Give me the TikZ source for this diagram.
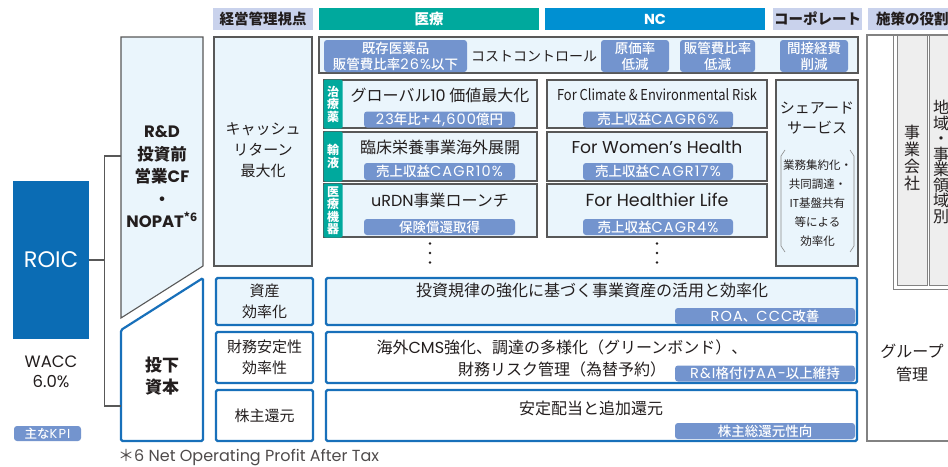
\documentclass[tikz,border=0pt]{standalone}
\usepackage{fontspec}
\setmainfont{Noto Sans CJK JP}
\newfontfamily\lat{Poppins}
\newfontfamily\latw{Poppins}[LetterSpace=8]
\newfontfamily\kpif{Noto Sans CJK JP Medium}
\usetikzlibrary{positioning,calc}
\definecolor{roicblue}{RGB}{11,108,180}
\definecolor{frameblue}{RGB}{24,112,186}
\definecolor{paleblue}{RGB}{234,245,252}
\definecolor{kpiblue}{RGB}{115,148,206}
\definecolor{medteal}{RGB}{0,169,157}
\definecolor{ncblue}{RGB}{0,144,210}
\definecolor{headlav}{RGB}{201,210,236}
\definecolor{linegray}{RGB}{88,88,88}
\definecolor{txtdark}{RGB}{35,30,30}
\definecolor{boxgray}{RGB}{238,238,238}
\newcommand\lt[1]{{\lat #1}}
\newcommand\ltw[1]{{\latw\fontsize{14.5pt}{16pt}\selectfont #1}}
\tikzset{rolebox/.style={
    draw=linegray!75,
    line width=0.9pt,
    fill=boxgray,
    align=center,
  }}

\begin{document}
\begin{tikzpicture}[x=1pt,y=-1pt,
        every node/.style={text=txtdark, inner sep=0pt},
        head/.style={fill=headlav, minimum height=22pt, font=\fontsize{14.5pt}{16pt}\selectfont\bfseries},
        pale/.style={draw=linegray, fill=paleblue, line width=1.1pt},
        bframe/.style={draw=frameblue, line width=2.2pt, rounded corners=1.5pt},
        kpi/.style={fill=kpiblue, text=white, rounded corners=3pt, align=center,
          font=\kpif\fontsize{13.5pt}{16pt}\selectfont},
        tab/.style={fill=medteal, text=white, rounded corners=2pt, minimum width=19pt, align=center,
          font=\fontsize{12pt}{12.5pt}\selectfont\bfseries},
        big/.style={font=\fontsize{16pt}{22.5pt}\selectfont, align=center},
        mid/.style={font=\fontsize{15pt}{21pt}\selectfont, align=center}
      ]
        \fill[white] (0,0) rectangle (948,466);
        \useasboundingbox (0,0) rectangle (948,466);

        % column heads
        \node[head, minimum width=100pt] (hview) at (263,19) {経営管理視点};
        \node[head, fill=medteal, text=white, minimum width=220pt] (hmed) at (429,19) {医療};
        \node[head, fill=ncblue, text=white, minimum width=220pt,
          font=\lat\fontsize{14.5pt}{16pt}\selectfont\bfseries] (hnc) at (655,19) {NC};
        \node[head, minimum width=89pt] (hcorp) at (817.5,19) {コーポレート};
        \node[head, anchor=west, inner xsep=8pt, text width=84pt, align=left] (hrole) at (868,19) {施策の役割};

        % ROIC tree
        \node[fill=roicblue, text=white, minimum width=76pt, minimum height=158pt,
          font=\lat\fontsize{22.5pt}{24pt}\selectfont] (roic) at (51,260) {ROIC};
        \node[font=\lat\fontsize{16.5pt}{20.5pt}\selectfont, align=center] (wacc) at (51,372) {WACC\\6.0\%};
        \node[kpi, minimum width=67pt, minimum height=15pt, font=\kpif\fontsize{12.5pt}{14pt}\selectfont] (kpikey) at (47.5,433.5) {主な{\latw\fontsize{13pt}{14pt}\selectfont KPI}};

        \draw[pale] (121,37) -- (203,37) -- (203,266) -- (121,318) -- cycle;
        \node[font=\fontsize{16.5pt}{22.5pt}\selectfont\bfseries, align=center] (rd) at (162,177)
          {\lt{R\&D}\\投資前\\営業\lt{CF}\\・\\\lt{NOPAT}\textsuperscript{*6}};
        \draw[bframe, fill=white] (121,330) -- (203,278) -- (203,441) -- (121,441) -- cycle;
        \node[font=\fontsize{17pt}{22pt}\selectfont\bfseries, align=center] (capital) at (162,376) {投下\\資本};

        \coordinate (rdin) at (121,156);
        \coordinate (capin) at (121,406);
        \draw[linegray, line width=1.1pt] (roic.east) -- ++(15,0) |- (rdin);
        \draw[linegray, line width=1.1pt] (roic.east) -- ++(15,0) |- (capin);

        % management view
        \node[pale, minimum width=98pt, minimum height=229pt] (cash) at (263,151.5) {};
        \node[mid] (cashtxt) at (263,150) {キャッシュ\\リターン\\最大化};

        % cost control
        \node[pale, minimum width=539pt, minimum height=36pt] (cost) at (588.5,55) {};
        \node[kpi, minimum width=143pt, minimum height=32pt] (costmed) at (395.5,56) {既存医薬品\\販管費比率\ltw{26\%}以下};
        \node[font=\fontsize{14pt}{16pt}\selectfont] (costtxt) at (534,56) {コストコントロール};
        \node[kpi, minimum width=68pt, minimum height=32pt] (costnca) at (635,56) {原価率\\低減};
        \node[kpi, minimum width=75pt, minimum height=32pt] (costncb) at (717.5,56) {販管費比率\\低減};
        \node[kpi, minimum width=68pt, minimum height=32pt] (costcorp) at (814,56) {間接経費\\削減};

        % medical
        \node[pale, minimum width=213pt, minimum height=48pt] (med1) at (430.5,104) {};
        \node[tab, minimum height=49pt, anchor=west] (med1tab) at (med1.west) {治\\療\\薬};
        \node[big] (med1txt) at (440,95) {グローバル\lt{10} 価値最大化};
        \node[kpi, minimum width=151pt, minimum height=16pt] (med1kpi) at (439.5,119.5) {\ltw{23}年比\ltw{+4,600}億円};

        \node[pale, minimum width=213pt, minimum height=49pt] (med2) at (430.5,156.5) {};
        \node[tab, minimum height=50pt, anchor=west] (med2tab) at (med2.west) {輸\\液};
        \node[big] (med2txt) at (440,147) {臨床栄養事業海外展開};
        \node[kpi, minimum width=151pt, minimum height=17pt] (med2kpi) at (439.5,171.5) {売上収益\ltw{CAGR10\%}};

        \node[pale, minimum width=213pt, minimum height=53pt] (med3) at (430.5,210.5) {};
        \node[tab, minimum height=54pt, anchor=west] (med3tab) at (med3.west) {医\\療\\機\\器};
        \node[big] (med3txt) at (440,200) {\lt{uRDN}事業ローンチ};
        \node[kpi, minimum width=151pt, minimum height=16pt] (med3kpi) at (439.5,227) {保険償還取得};
        \coordinate (meddots) at (430,253);
        \foreach \dy in {-9.5,0,9.5}
          \fill[txtdark] ($(meddots)+(0,\dy)$) circle (1.3pt);

        % NC
        \node[pale, minimum width=220pt, minimum height=48pt] (nc1) at (657,104) {};
        \node[font=\fontsize{15pt}{16pt}\selectfont] (nc1txt) at (657,95) {\scalebox{0.86}[1]{For Climate \& Environmental Risk}};
        \node[kpi, minimum width=150pt, minimum height=16pt] (nc1kpi) at (658,119.5) {売上収益\ltw{CAGR6\%}};

        \node[pale, minimum width=220pt, minimum height=49pt] (nc2) at (657,156.5) {};
        \node[font=\lat\fontsize{17.2pt}{18pt}\selectfont] (nc2txt) at (657,147) {For Women’s Health};
        \node[kpi, minimum width=150pt, minimum height=17pt] (nc2kpi) at (658,171.5) {売上収益\ltw{CAGR17\%}};

        \node[pale, minimum width=220pt, minimum height=53pt] (nc3) at (657,210.5) {};
        \node[font=\lat\fontsize{17.5pt}{18pt}\selectfont] (nc3txt) at (657,200) {For Healthier Life};
        \node[kpi, minimum width=150pt, minimum height=16pt] (nc3kpi) at (658,227) {売上収益\ltw{CAGR4\%}};
        \coordinate (ncdots) at (657,253);
        \foreach \dy in {-9.5,0,9.5}
          \fill[txtdark] ($(ncdots)+(0,\dy)$) circle (1.3pt);

        % shared service
        \node[pale, minimum width=82pt, minimum height=186pt] (shared) at (817,173) {};
        \node[mid, font=\fontsize{15pt}{20pt}\selectfont] (sharedttl) at (817,118) {シェアード\\サービス};
        \node[font=\fontsize{11.5pt}{19pt}\selectfont, align=center] (shareddo) at (817.5,203) {業務集約化・\\共同調達・\\\lt{IT}基盤共有\\等による\\効率化};
        \draw[linegray!70, line width=0.6pt] (785,150) -- (781,156) -- (781,246) -- (785,252);
        \draw[linegray!70, line width=0.6pt] (850,150) -- (854,156) -- (854,246) -- (850,252);

        % asset, finance, return rows
        \node[bframe, fill=paleblue, minimum width=97pt, minimum height=47pt, mid] (assetl) at (264.5,301.5) {資産\\効率化};
        \node[bframe, fill=paleblue, minimum width=531pt, minimum height=47pt] (assetr) at (591.5,301.5) {};
        \node[big] (assettxt) at (592,290) {投資規律の強化に基づく事業資産の活用と効率化};
        \node[kpi, minimum width=180pt, minimum height=16pt] (assetkpi) at (765,316) {\ltw{ROA}、\ltw{CCC}改善};

        \node[bframe, fill=white, minimum width=97pt, minimum height=51pt, mid] (financel) at (264.5,357.5) {財務安定性\\効率性};
        \node[bframe, fill=white, minimum width=531pt, minimum height=51pt] (financer) at (591.5,357.5) {};
        \node[big] (financetxt) at (562,358.5) {海外\lt{CMS}強化、調達の多様化（グリーンボンド）、\\財務リスク管理（為替予約）};
        \node[kpi, minimum width=180pt, minimum height=16pt] (financekpi) at (765,373.5) {\ltw{R\&I}格付け\ltw{AA-}以上維持};

        \node[bframe, fill=white, minimum width=97pt, minimum height=51pt, mid] (returnl) at (264.5,415.5) {株主還元};
        \node[bframe, fill=white, minimum width=531pt, minimum height=51pt] (returnr) at (591.5,415.5) {};
        \node[big] (returntxt) at (591,408) {安定配当と追加還元};
        \node[kpi, minimum width=180pt, minimum height=16pt] (returnkpi) at (765,431) {株主総還元性向};

        % role of measures
        \node[draw=linegray!75, line width=1.1pt, minimum width=133pt, minimum height=406pt] (role) at (933.5,238) {};
        \node[draw=linegray!75, line width=0.9pt, minimum width=107pt, minimum height=254pt] (rolebiz) at (946.5,162) {};
        \node[rolebox, minimum width=30pt, minimum height=250pt] (company) at (912,160) {};
        \node[font=\fontsize{16pt}{17pt}\selectfont, align=center] (companytxt) at (912,158) {事\\業\\会\\社};
        \node[rolebox, minimum width=60pt, minimum height=250pt] (region) at (959,160) {};
        \node[font=\fontsize{16pt}{15.5pt}\selectfont, align=center] (regiontxt) at (941,162) {地\\域\\・\\事\\業\\領\\域\\別};
        \node[big] (group) at (912,363) {グループ\\管理};

        \node[anchor=west, text=txtdark!80, font=\fontsize{16pt}{18pt}\selectfont] (note6) at (118,458) {＊\lt{6 Net Operating Profit After Tax}};
      \end{tikzpicture}
\end{document}
